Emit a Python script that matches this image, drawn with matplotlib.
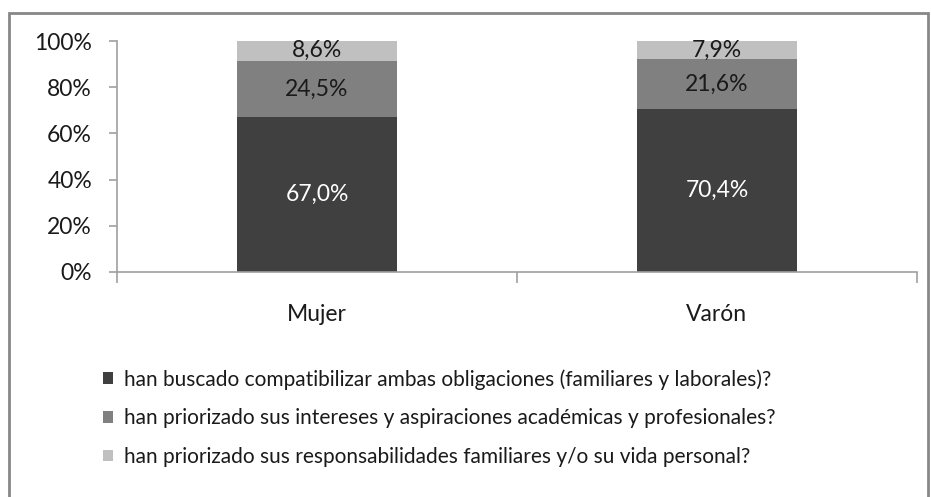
import matplotlib
matplotlib.use("Agg")
from matplotlib import pyplot as plt
from matplotlib.patches import Rectangle, Patch

categorias = ["Mujer", "Varón"]
compatibilizar = [67.0, 70.4]
academicas = [24.5, 21.6]
familiares = [8.6, 7.9]
series = [compatibilizar, academicas, familiares]
nombres = [
    "han buscado compatibilizar ambas obligaciones (familiares y laborales)?",
    "han priorizado sus intereses y aspiraciones académicas y profesionales?",
    "han priorizado sus responsabilidades familiares y/o su vida personal?",
]
colores = ["#404040", "#808080", "#c0c0c0"]
color_texto = ["white", "#1a1a1a", "#1a1a1a"]
yticks = [0, 20, 40, 60, 80, 100]

fuente = ["Lato", "DejaVu Sans"]

fig = plt.figure(figsize=(9.31, 4.97), dpi=100)
ax = fig.add_axes([117 / 931, 1 - 272 / 497, 800 / 931, 231 / 497])

x = range(len(categorias))
base = [0, 0]
for valores, color, ct in zip(series, colores, color_texto):
    barras = ax.bar(x, valores, width=0.4, bottom=base, color=color)
    for b, v, y0 in zip(barras, valores, base):
        ax.text(b.get_x() + b.get_width() / 2, y0 + v / 2,
                f"{v:.1f}%".replace(".", ","), ha="center", va="center",
                color=ct, fontsize=16.5, family=fuente)
    base = [a + b for a, b in zip(base, valores)]

ax.set_xlim(-0.5, 1.5)
ax.set_ylim(0, 100)
ax.set_yticks(yticks)
ax.set_yticklabels([f"{t}%" for t in yticks], family=fuente, fontsize=16.5)
ax.set_xticks([0, 1])
ax.set_xticklabels(categorias, family=fuente, fontsize=16.5)
ax.set_xticks([-0.5, 0.5, 1.5], minor=True)
ax.tick_params(axis="x", which="major", length=0, pad=23, labelcolor="#1a1a1a")
ax.tick_params(axis="x", which="minor", length=8, color="#a0a0a0", width=1.2)
ax.tick_params(axis="y", length=6, color="#a0a0a0", width=1.2, pad=12,
               labelcolor="#1a1a1a")
for s in ["top", "right"]:
    ax.spines[s].set_visible(False)
for s in ["left", "bottom"]:
    ax.spines[s].set_color("#a0a0a0")
    ax.spines[s].set_linewidth(1.2)

handles = [Patch(facecolor=c, edgecolor="none") for c in colores]
fig.legend(handles, nombres, loc="upper left",
           bbox_to_anchor=(103 / 931, 1 - 369 / 497), frameon=False,
           handlelength=0.48, handleheight=0.48, handletextpad=0.55,
           labelspacing=0.9, borderaxespad=0, borderpad=0,
           labelcolor="#1a1a1a",
           prop={"family": fuente, "size": 15})

fig.patches.append(Rectangle((9 / 931, -0.05), 919 / 931, 1.05 - 13 / 497,
                             transform=fig.transFigure, fill=False,
                             edgecolor="#878787", linewidth=2))

fig.savefig("out.png", dpi=100)
